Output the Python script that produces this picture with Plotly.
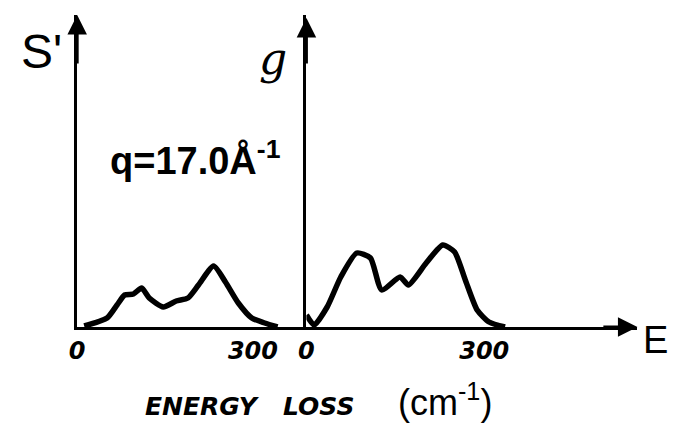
import plotly.graph_objects as go

# Left panel: S'(E)  (energy loss cm^-1, arbitrary units)
s_energy = [12, 51, 68, 81, 96, 110, 123, 147, 169, 189, 207, 233, 253, 275, 298, 320, 342]
s_value = [0.1, 0.9, 2.2, 3.2, 3.3, 3.9, 2.9, 2.0, 2.6, 2.9, 4.2, 6.1, 4.5, 2.4, 0.9, 0.4, 0.0]

# Right panel: g(E)
g_energy = [0, 13, 35, 58, 85, 108, 127, 158, 172, 202, 230, 250, 268, 288, 308, 335]
g_value = [1.2, 0.2, 2.0, 5.0, 7.4, 6.9, 3.7, 5.0, 4.2, 6.4, 8.2, 7.5, 4.7, 1.7, 0.5, 0.0]

tick_vals = [0, 300]
tick_text = ["<b><i>0</i></b>", "<b><i>300</i></b>"]

W, H = 673, 432
def px(x):
    return x / W
def py(y):
    return 1 - y / H

x1_dom = [px(70), px(302)]
x2_dom = [px(302), px(637)]
y_dom = [py(327), py(15)]
x1_max = (302 - 70) / 0.593
x2_max = (637 - 302) / 0.6
y_max = 31.2

fig = go.Figure()
fig.add_trace(go.Scatter(x=s_energy, y=s_value, mode="lines", xaxis="x", yaxis="y",
                         line=dict(color="black", width=5.5, shape="spline", smoothing=0.6),
                         showlegend=False))
fig.add_trace(go.Scatter(x=g_energy, y=g_value, mode="lines", xaxis="x2", yaxis="y2",
                         line=dict(color="black", width=5.5, shape="spline", smoothing=0.6),
                         showlegend=False))

tickfont = dict(family="DejaVu Sans", size=24, color="black")
common_x = dict(showgrid=False, zeroline=False, showline=True, linecolor="black", linewidth=2.5,
                tickvals=tick_vals, ticktext=tick_text, ticks="", tickfont=tickfont)
common_y = dict(showgrid=False, zeroline=False, showline=True, linecolor="black", linewidth=2.5,
                showticklabels=False, ticks="", range=[0, y_max], domain=y_dom)

fig.update_layout(
    width=W, height=H, margin=dict(l=0, r=0, t=0, b=0),
    paper_bgcolor="white", plot_bgcolor="white",
    xaxis=dict(domain=x1_dom, range=[0, x1_max], anchor="y", **common_x),
    yaxis=dict(anchor="x", **common_y),
    xaxis2=dict(domain=x2_dom, range=[0, x2_max], anchor="y2", **common_x),
    yaxis2=dict(anchor="x2", **common_y),
)

# axis arrows
fig.add_annotation(x=0, y=y_max, ax=0, ay=y_max - 5, xref="x", yref="y", axref="x", ayref="y",
                   showarrow=True, arrowhead=2, arrowsize=1.3, arrowwidth=3, arrowcolor="black", text="")
fig.add_annotation(x=0, y=y_max - 0.3, ax=0, ay=y_max - 5, xref="x2", yref="y2", axref="x2", ayref="y2",
                   showarrow=True, arrowhead=2, arrowsize=1.3, arrowwidth=3, arrowcolor="black", text="")
fig.add_annotation(x=x2_max, y=0, ax=x2_max - 60, ay=0, xref="x2", yref="y2", axref="x2", ayref="y2",
                   showarrow=True, arrowhead=2, arrowsize=1.3, arrowwidth=3, arrowcolor="black", text="")
# tick mark at 300 on both panels
for xr, yr in (("x", "y"), ("x2", "y2")):
    fig.add_shape(type="line", x0=300, x1=300, y0=0, y1=-0.9, xref=xr, yref=yr,
                  line=dict(color="black", width=3.5))

def label(text, x, y, size, family="DejaVu Sans", xanchor="center"):
    fig.add_annotation(text=text, x=px(x), y=py(y), xref="paper", yref="paper", showarrow=False,
                       xanchor=xanchor, yanchor="middle",
                       font=dict(family=family, size=size, color="black"))

label("S'", 34, 52, 48, family="Liberation Sans")
label("<i>g</i>", 268, 58, 44, family="DejaVu Serif")
label("<b>q=17.0Å<sup>-1</sup></b>", 190, 158, 38, family="Liberation Sans")
label("E", 655, 340, 38, family="Liberation Sans")
label("<b><i>ENERGY   LOSS</i></b>", 244, 406, 25)
label("(cm<sup>-1</sup>)", 442, 400, 36, family="Liberation Sans")

fig.write_html("out.html", config={"displayModeBar": False},
               post_script="document.body.style.margin='0';document.body.style.overflow='hidden';")
